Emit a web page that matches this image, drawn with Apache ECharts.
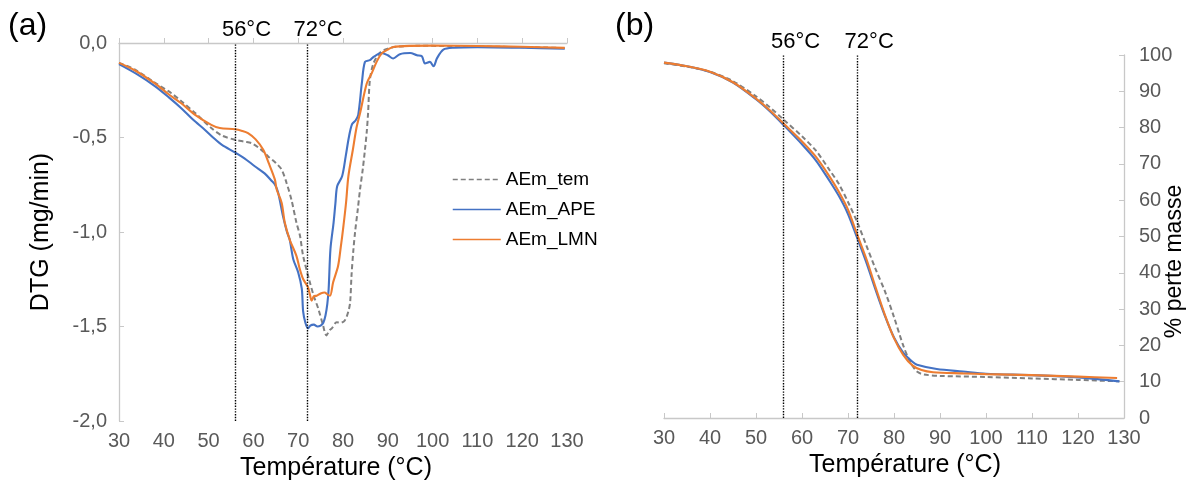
<!DOCTYPE html>
<html>
<head>
<meta charset="utf-8">
<script src="https://cdn.jsdelivr.net/npm/echarts@6/dist/echarts.min.js"></script>
<style>html,body{margin:0;padding:0;background:#fff}#c{width:1199px;height:490px}</style>
</head>
<body>
<div id="c"></div>
<script>
// ---- Panel (a): DTG (mg/min) vs temperature ----
const temT_a = [30,33.5,38,41.7,44,47,50.6,53,55.9,58,59.6,61.5,63.3,65,66.3,67.4,68.5,69.6,70.4,71.1,72.6,73.5,74.5,75.5,76.3,77,77.5,78.6,79.5,80.4,81.2,81.6,81.9,82.3,82.7,83.3,83.8,84.4,84.9,85.3,85.6,86,86.8,88.3,90,92,97,105,115,125,129.5];
const temV_a = [-0.105,-0.14,-0.21,-0.266,-0.31,-0.37,-0.45,-0.49,-0.512,-0.522,-0.53,-0.56,-0.6,-0.635,-0.67,-0.74,-0.83,-0.95,-1.02,-1.126,-1.266,-1.34,-1.407,-1.49,-1.547,-1.52,-1.51,-1.477,-1.48,-1.468,-1.42,-1.37,-1.23,-1.1,-1.0,-0.88,-0.775,-0.67,-0.565,-0.47,-0.37,-0.196,-0.108,-0.05,-0.03,-0.02,-0.015,-0.016,-0.02,-0.024,-0.027];

const apeT_a = [30,34,38,41,43.9,46.5,49.2,51,52.9,55.9,58,60.3,62.5,64.1,64.8,65.5,66.6,67.5,68.1,68.9,70,70.8,71.1,71.6,72.2,72.7,73.5,74.3,75,75.6,76.1,76.5,76.8,77.2,77.9,78.3,78.7,79.8,80.6,81.3,82,82.8,83.4,84.2,84.9,86,86.8,88.6,90,91.2,92.7,95,96.5,97.6,98.3,99.4,100.2,101,102.4,104.7,110,120,129.5];
const apeV_a = [-0.112,-0.165,-0.228,-0.285,-0.345,-0.405,-0.46,-0.5,-0.538,-0.579,-0.61,-0.652,-0.69,-0.73,-0.749,-0.79,-0.916,-1.0,-1.04,-1.144,-1.214,-1.3,-1.42,-1.48,-1.51,-1.495,-1.49,-1.5,-1.495,-1.48,-1.44,-1.38,-1.3,-1.09,-0.95,-0.85,-0.758,-0.705,-0.6,-0.5,-0.43,-0.41,-0.38,-0.214,-0.1,-0.091,-0.074,-0.053,-0.065,-0.082,-0.059,-0.053,-0.065,-0.07,-0.108,-0.1,-0.123,-0.08,-0.035,-0.025,-0.022,-0.025,-0.03];

const lmnT_a = [30,33.5,38,41,43.9,47,50.6,52.5,55.9,57.5,58.8,60.5,62.2,63.5,64.8,65.2,66.3,67,68.1,69.6,70.4,71.1,72.2,72.6,73,73.5,74.1,75,75.9,76.5,77.1,77.8,78.9,79.5,80.1,80.7,81.2,82.2,83,83.8,85.3,86.4,87.5,88.6,90,91.2,95,100,110,120,129.5];
const lmnV_a = [-0.105,-0.144,-0.214,-0.27,-0.319,-0.38,-0.433,-0.45,-0.456,-0.465,-0.477,-0.51,-0.565,-0.64,-0.723,-0.775,-0.845,-0.95,-1.04,-1.126,-1.2,-1.249,-1.293,-1.33,-1.363,-1.34,-1.337,-1.325,-1.32,-1.33,-1.337,-1.266,-1.18,-1.08,-0.968,-0.84,-0.705,-0.565,-0.45,-0.372,-0.214,-0.161,-0.1,-0.056,-0.035,-0.021,-0.015,-0.014,-0.016,-0.02,-0.026];

// ---- Panel (b): % perte masse vs temperature ----
const temT_b = [30,35,40,45,50,53,56,60,63,66,68,70,72,74,76,78,80,82,83.5,85,86.5,90,100,110,120,129];
const temV_b = [97.7,96.8,95.4,92.8,88.6,85.6,82.2,77.6,73.7,68.3,64.5,59.5,54,47.5,41,35,27.8,20,15.5,12.8,12,11.6,11.3,10.9,10.5,10.1];

const apeT_b = [30,35,40,45,50,53,56,60,63,66,68,70,72,74,76,78,80,82,84,85,89.3,95,100,110,120,129];
const apeV_b = [97.9,96.9,95.3,92.4,87.8,84.5,80.7,75.4,71,65.3,61.2,56.2,49.6,42.8,35.3,28.2,22.2,18,15.5,14.7,13.5,12.8,12.2,11.8,11.2,10.1];

const lmnT_b = [30,35,40,45,50,53,56,60,63,66,68,70,72,74,76,78,80,82,84,86,88.5,95,100,110,120,128.5];
const lmnV_b = [97.9,96.9,95.4,92.5,88,84.8,81.1,76.2,72,66.5,62.3,57.4,50.5,43.8,36,28.5,22,17.4,14.5,13.2,12.6,12.3,12.1,11.8,11.4,11.0];

const xTicks = {min: 30, max: 130, interval: 10};
const dtgTicks = {min: -2, max: 0, interval: 0.5};
const massTicks = {min: 0, max: 100, interval: 10};
const markTemps = [56, 72];
const names = ['AEm_tem', 'AEm_APE', 'AEm_LMN'];

const zip = (a, b) => a.map((t, i) => [t, b[i]]);

const FONT = '"Liberation Sans", Arial, sans-serif';
const axisGrey = '#c8c8c8';
const labelGrey = '#595959';
const colors = {tem: '#808080', ape: '#4472C4', lmn: '#ED7D31'};

function markLine(padLeft) {
  return {
    silent: true,
    symbol: ['none', 'none'],
    lineStyle: {color: '#000', type: 'dotted', width: 1.4},
    label: {
      show: true, position: 'end', color: '#000', fontSize: 22, fontFamily: FONT,
      distance: 2, padding: [0, 0, 0, padLeft], formatter: p => p.value + '°C'
    },
    data: markTemps.map(t => ({xAxis: t}))
  };
}

function xAxis(gridIndex, padding) {
  return {
    type: 'value', gridIndex, ...xTicks,
    name: 'Température (°C)', nameLocation: 'middle', nameGap: 30,
    nameTextStyle: {color: '#000', fontSize: 25, fontFamily: FONT, padding},
    axisLine: {show: true, lineStyle: {color: axisGrey, width: 1.3}},
    axisTick: {show: true, inside: true, length: 5, lineStyle: {color: axisGrey}},
    axisLabel: {color: labelGrey, fontSize: 20, fontFamily: FONT, margin: 10},
    splitLine: {show: false}
  };
}

function line(name, data, color, xi, yi, dashed, padLeft) {
  const s = {
    name, type: 'line', xAxisIndex: xi, yAxisIndex: yi, data,
    symbol: 'none', smooth: 0.3, z: dashed ? 2 : 3,
    lineStyle: {color, width: dashed ? 2 : 2.1, type: dashed ? [5, 3] : 'solid'},
    itemStyle: {color}
  };
  if (padLeft) s.markLine = markLine(padLeft);
  return s;
}

const chart = echarts.init(document.getElementById('c'), null, {renderer: 'canvas'});
chart.setOption({
  animation: false,
  backgroundColor: '#fff',
  title: [
    {text: '(a)', left: 3, top: 5, textStyle: {fontSize: 32, fontWeight: 'normal', color: '#000', fontFamily: FONT}},
    {text: '(b)', left: 610, top: 5, textStyle: {fontSize: 32, fontWeight: 'normal', color: '#000', fontFamily: FONT}}
  ],
  legend: {
    data: names, orient: 'vertical', left: 447, top: 165,
    itemWidth: 48, itemHeight: 14, itemGap: 11,
    textStyle: {color: '#000', fontSize: 19, fontFamily: FONT},
    itemStyle: {opacity: 0},
    lineStyle: {width: 1.5}
  },
  grid: [
    {left: 119, right: 632, top: 43, bottom: 69},
    {left: 664, right: 75, top: 55, bottom: 72}
  ],
  xAxis: [xAxis(0, [0, 14, 0, 0]), xAxis(1, [0, 0, 0, 22])],
  yAxis: [
    {
      type: 'value', gridIndex: 0, ...dtgTicks,
      name: 'DTG (mg/min)', nameLocation: 'middle', nameGap: 65, nameRotate: 90,
      nameTextStyle: {color: '#000', fontSize: 25, fontFamily: FONT},
      axisLine: {show: true, lineStyle: {color: axisGrey, width: 1.3}},
      axisTick: {show: true, inside: true, length: 5, lineStyle: {color: axisGrey}},
      axisLabel: {color: labelGrey, fontSize: 20, fontFamily: FONT, margin: 12,
        formatter: v => v.toFixed(1).replace('.', ',')},
      splitLine: {show: false}
    },
    {
      type: 'value', gridIndex: 1, position: 'right', ...massTicks,
      name: '% perte masse', nameLocation: 'middle', nameGap: 39, nameRotate: 90,
      nameMoveOverlap: false,
      nameTextStyle: {color: '#000', fontSize: 23, fontFamily: FONT, padding: [0, 50, 0, 0]},
      axisLine: {show: true, lineStyle: {color: axisGrey, width: 1.3}},
      axisTick: {show: true, inside: true, length: 5, lineStyle: {color: axisGrey}},
      axisLabel: {color: labelGrey, fontSize: 20, fontFamily: FONT, margin: 15},
      splitLine: {show: false}
    }
  ],
  series: [
    line(names[0], zip(temT_a, temV_a), colors.tem, 0, 0, true, 0),
    line(names[1], zip(apeT_a, apeV_a), colors.ape, 0, 0, false, 22),
    line(names[2], zip(lmnT_a, lmnV_a), colors.lmn, 0, 0, false, 0),
    line(names[0], zip(temT_b, temV_b), colors.tem, 1, 1, true, 0),
    line(names[1], zip(apeT_b, apeV_b), colors.ape, 1, 1, false, 24),
    line(names[2], zip(lmnT_b, lmnV_b), colors.lmn, 1, 1, false, 0)
  ]
});
</script>
</body>
</html>
